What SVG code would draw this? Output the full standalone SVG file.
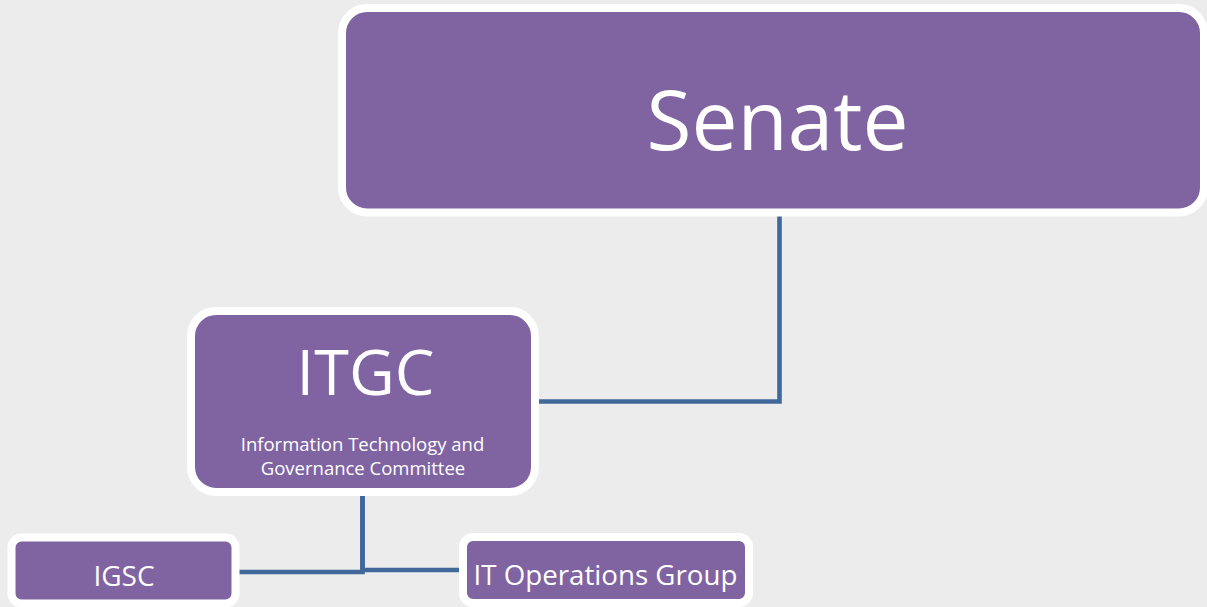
<svg xmlns="http://www.w3.org/2000/svg" width="1207" height="607" viewBox="0 0 1207 607">
  <style>
    .box { fill: #8064a2; stroke: #ffffff; stroke-width: 8; }
    .label { fill: #ffffff; font-family: "Open Sans", "Liberation Sans", sans-serif; text-anchor: middle; }
    .link { fill: none; stroke: #41689b; stroke-width: 4.6; stroke-linejoin: miter; }
  </style>
  <rect x="0" y="0" width="1207" height="607" fill="#ececec"/>

  <!-- connectors -->
  <g id="connectors">
    <path class="link" d="M 779.5 216 V 401.5 H 539"/>
    <path class="link" d="M 362.5 496 V 572 H 239"/>
    <path class="link" d="M 362.5 496 V 570 H 459"/>
  </g>

  <g id="senate">
    <rect class="box" x="342" y="8" width="862" height="204.5" rx="25" ry="25"/>
    <text class="label" x="777.5" y="150" font-size="82">Senate</text>
  </g>

  <g id="itgc">
    <rect class="box" x="191" y="311" width="344" height="181" rx="25" ry="25"/>
    <text class="label" x="365.5" y="395" font-size="63">ITGC</text>
    <text class="label" x="362.5" y="451" font-size="18.5">Information Technology and</text>
    <text class="label" x="363" y="475" font-size="18.5">Governance Committee</text>
  </g>

  <g id="igsc">
    <rect class="box" x="11.5" y="537.5" width="224" height="66" rx="10" ry="10"/>
    <text class="label" x="124" y="586" font-size="28">IGSC</text>
  </g>

  <g id="it-operations">
    <rect class="box" x="463" y="537" width="286" height="66" rx="10" ry="10"/>
    <text class="label" x="605.5" y="585" font-size="27.7">IT Operations Group</text>
  </g>
</svg>
